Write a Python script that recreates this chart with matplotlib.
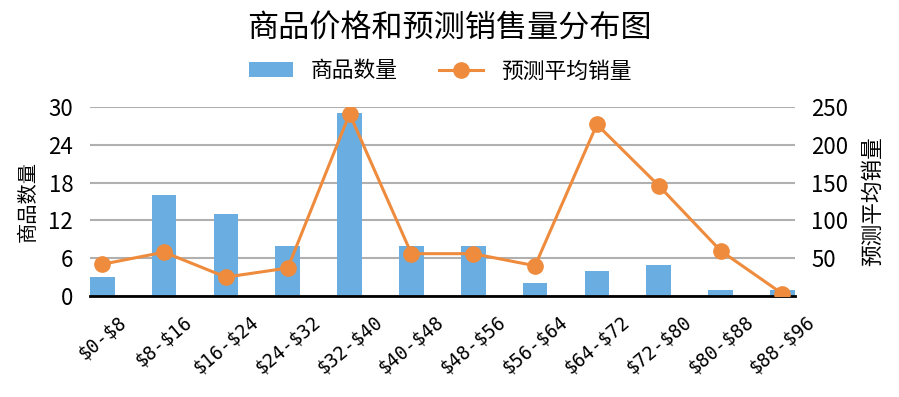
import numpy as np
import matplotlib
matplotlib.use("Agg")
import matplotlib.pyplot as plt

plt.rcParams['font.family'] = ['Noto Sans CJK SC', 'DejaVu Sans']
plt.rcParams['text.parse_math'] = False

# 数据
price_bins = ['$0-$8', '$8-$16', '$16-$24', '$24-$32', '$32-$40', '$40-$48',
              '$48-$56', '$56-$64', '$64-$72', '$72-$80', '$80-$88', '$88-$96']
item_counts = [3, 16, 13, 8, 29, 8, 8, 2, 4, 5, 1, 1]
avg_sales = [42, 58, 25, 37, 241, 56, 56, 40, 227, 146, 60, 3]

blue = '#6aade0'
orange = '#ee8b3d'

fig = plt.figure(figsize=(8.99, 3.97), dpi=100)
ax = fig.add_axes([0.1, 0.2544, 0.784, 0.476])
ax2 = ax.twinx()

x = np.arange(len(price_bins))
ax.bar(x, item_counts, width=0.4, color=blue, label='商品数量', zorder=2)
ax2.plot(x, avg_sales, color=orange, lw=2.2, marker='o', ms=11, label='预测平均销量', zorder=3)

ax.set_xlim(-0.2, 11.2)
ax.set_ylim(0, 30)
ax.set_yticks([0, 6, 12, 18, 24, 30])
ax2.set_ylim(0, 250)
ax2.set_yticks([50, 100, 150, 200, 250])

ax.yaxis.grid(True, color='#b0b0b0', lw=1.5, zorder=0)
ax.set_axisbelow(True)

for a in (ax, ax2):
    for s in ['top', 'left', 'right', 'bottom']:
        a.spines[s].set_visible(False)
    a.tick_params(axis='y', length=0, labelsize=16, pad=12)
ax.spines['bottom'].set_visible(True)
ax.spines['bottom'].set_linewidth(2)
ax.spines['bottom'].set_color('black')
ax.spines['bottom'].set_zorder(5)

ax.set_xticks(x)
ax.tick_params(axis='x', length=0, pad=12)
ax.set_xticklabels(price_bins, rotation=40, ha='center',
                   fontfamily='DejaVu Sans Mono', fontsize=13.4)

ax.set_ylabel('商品数量', fontsize=14.6, labelpad=7)
ax2.set_ylabel('预测平均销量', fontsize=15.6, rotation=90, labelpad=10)

fig.suptitle('商品价格和预测销售量分布图', fontsize=22.4, y=0.965)

h1, l1 = ax.get_legend_handles_labels()
h2, l2 = ax2.get_legend_handles_labels()
fig.legend(h1 + h2, l1 + l2, loc='center', bbox_to_anchor=(0.49, 0.82), ncol=2,
           frameon=False, fontsize=15.7, handlelength=2.0, handletextpad=0.85,
           columnspacing=1.9)

fig.savefig('out.png', dpi=100)
